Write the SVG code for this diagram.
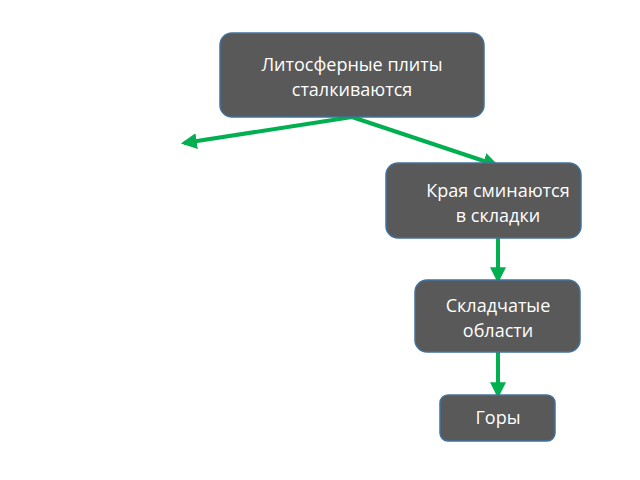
<svg xmlns="http://www.w3.org/2000/svg" width="640" height="480" viewBox="0 0 640 480">
<defs>
<style>
.n{fill:#595959;stroke:#41719c;stroke-width:1.5}
.t{font-family:"Open Sans","DejaVu Sans",sans-serif;font-size:18px;fill:#fff;text-anchor:middle}
.c{stroke:#00b050;stroke-width:4;fill:none;marker-end:url(#a)}
</style>
<marker id="a" viewBox="0 0 10 10" refX="8" refY="5" markerWidth="4" markerHeight="4" orient="auto" markerUnits="strokeWidth"><path d="M0,0L10,5L0,10z" fill="#00b050"/></marker>
</defs>
<rect width="640" height="480" fill="#fff"/>
<g id="connectors">
<path class="c" d="M352,117L184,143"/>
<path class="c" d="M352,117L496,165"/>
<path class="c" d="M498,238L498,280"/>
<path class="c" d="M498,352L498,395"/>
</g>
<g id="n1"><rect class="n" x="220" y="33" width="264" height="84" rx="12"/><text class="t" x="352" y="71">Литосферные плиты</text><text class="t" x="352" y="96">сталкиваются</text></g>
<g id="n2"><rect class="n" x="386" y="163" width="195" height="75" rx="12"/><text class="t" x="498" y="197">Края сминаются</text><text class="t" x="498" y="222">в складки</text></g>
<g id="n3"><rect class="n" x="415" y="280" width="165" height="72" rx="12"/><text class="t" x="498" y="312">Складчатые</text><text class="t" x="498" y="337">области</text></g>
<g id="n4"><rect class="n" x="440" y="395" width="115" height="46" rx="8"/><text class="t" x="498" y="424">Горы</text></g>
</svg>
